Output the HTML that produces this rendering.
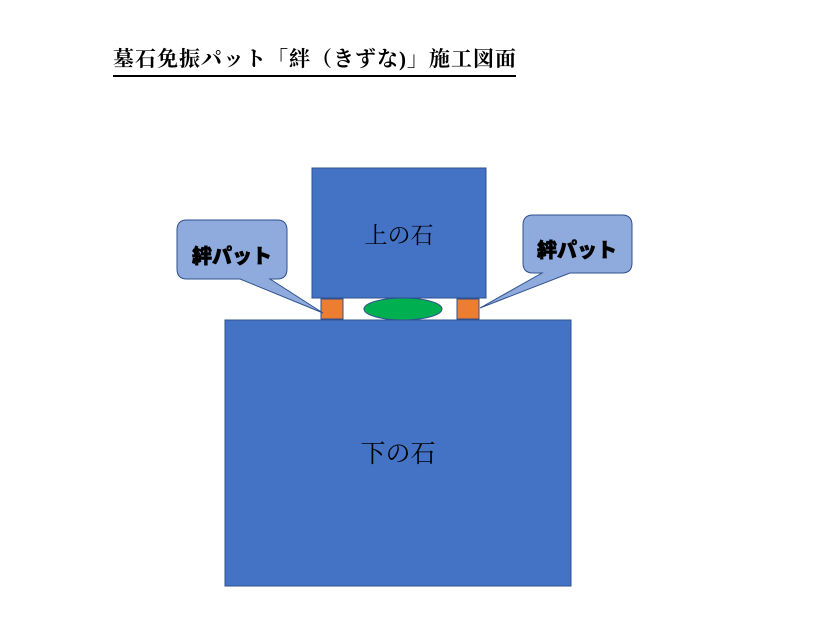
<!DOCTYPE html>
<html><head><meta charset="utf-8"><style>
body{margin:0;width:815px;height:632px;background:#fff;overflow:hidden;position:relative}
.t{position:absolute;left:113px;top:46px;font-family:"Liberation Serif","Noto Serif CJK SC",serif;font-weight:bold;font-size:21px;letter-spacing:1px;white-space:nowrap;line-height:26px}
.u{position:absolute;left:113px;top:75px;width:403px;height:2px;background:#000}
</style></head><body>
<div class="t">墓石免振パット「絆（きずな)」施工図面</div>
<div class="u"></div>
<svg width="815" height="632" style="position:absolute;left:0;top:0">
<g stroke="#2f528f" stroke-width="1">
<rect x="312" y="168" width="174" height="130" fill="#4472c4"/>
<rect x="225" y="320" width="346" height="266" fill="#4472c4"/>
<rect x="321" y="299" width="22" height="20" fill="#ed7d31"/>
<rect x="457" y="299" width="22" height="20" fill="#ed7d31"/>
<ellipse cx="403" cy="309" rx="39" ry="11" fill="#00b050"/>
<path d="M187,220 H277 Q287,220 287,230 V269 Q287,279 277,279 H270 L323,313 L240,279 H187 Q177,279 177,269 V230 Q177,220 187,220 Z" fill="#8faadc"/>
<path d="M533,215 H622 Q632,215 632,225 V263 Q632,273 622,273 H570 L480,308 L542,273 H533 Q523,273 523,263 V225 Q523,215 533,215 Z" fill="#8faadc"/>
</g>
<g font-family="Liberation Sans,Noto Sans CJK JP,sans-serif" text-anchor="middle">
<text x="399" y="243" font-size="23" font-family="Liberation Serif,Noto Serif CJK SC,serif">上の石</text>
<text x="398" y="462" font-size="25" font-family="Liberation Serif,Noto Serif CJK SC,serif">下の石</text>
<text x="232" y="263" font-size="20" font-weight="900" stroke="#000" stroke-width="0.6">絆パット</text>
<text x="577" y="257" font-size="20" font-weight="900" stroke="#000" stroke-width="0.6">絆パット</text>
</g>
</svg>
</body></html>
